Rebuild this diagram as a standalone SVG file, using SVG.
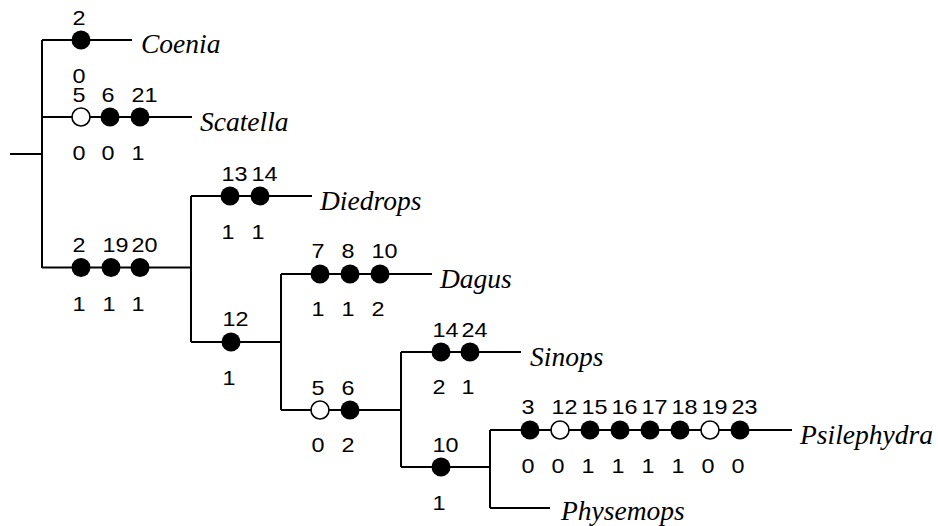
<svg xmlns="http://www.w3.org/2000/svg" width="938" height="526" viewBox="0 0 938 526">
<style>
.l{stroke:#000;stroke-width:2;fill:none}
.f{fill:#000}
.o{fill:#fff;stroke:#000;stroke-width:1.6}
.n{font-family:"Liberation Sans",Arial,sans-serif;font-size:21px;fill:#000}
.t{font-family:"Liberation Serif","Times New Roman",serif;font-style:italic;font-size:27.5px;fill:#000}
</style>
<rect width="938" height="526" fill="#fff"/>
<g id="connectors">
<path class="l" d="M10 154H42M42 40V268M42 40H132M42 117H192M42 267.5H191M191 196V342M191 196H312M191 342H281M281 274V410M281 274H432M281 410H401M401 352V467M401 352H521M401 467H490M490 430V508M490 430H792M490 508H550"/>
</g>
<g id="coenia">
<circle class="f" cx="81" cy="40" r="9.5"/>
<text class="n" x="72.5" y="25" textLength="13" lengthAdjust="spacingAndGlyphs">2</text>
<text class="n" x="72.5" y="83" textLength="13" lengthAdjust="spacingAndGlyphs">0</text>
<text class="t" x="141" y="53">Coenia</text>
</g>
<g id="scatella">
<circle class="o" cx="81" cy="117" r="9"/>
<circle class="f" cx="110" cy="117" r="9.5"/>
<circle class="f" cx="140" cy="117" r="9.5"/>
<text class="n" x="72.5" y="102" textLength="13" lengthAdjust="spacingAndGlyphs">5</text>
<text class="n" x="101.5" y="102" textLength="13" lengthAdjust="spacingAndGlyphs">6</text>
<text class="n" x="131.5" y="102" textLength="26" lengthAdjust="spacingAndGlyphs">21</text>
<text class="n" x="72.5" y="160" textLength="13" lengthAdjust="spacingAndGlyphs">0</text>
<text class="n" x="101.5" y="160" textLength="13" lengthAdjust="spacingAndGlyphs">0</text>
<text class="n" x="131.5" y="160" textLength="13" lengthAdjust="spacingAndGlyphs">1</text>
<text class="t" x="200" y="131">Scatella</text>
</g>
<g id="clade-a">
<circle class="f" cx="81" cy="267.5" r="9.5"/>
<circle class="f" cx="111" cy="267.5" r="9.5"/>
<circle class="f" cx="140" cy="267.5" r="9.5"/>
<text class="n" x="72.5" y="252" textLength="13" lengthAdjust="spacingAndGlyphs">2</text>
<text class="n" x="102.5" y="252" textLength="26" lengthAdjust="spacingAndGlyphs">19</text>
<text class="n" x="131.5" y="252" textLength="26" lengthAdjust="spacingAndGlyphs">20</text>
<text class="n" x="72.5" y="311" textLength="13" lengthAdjust="spacingAndGlyphs">1</text>
<text class="n" x="102.5" y="311" textLength="13" lengthAdjust="spacingAndGlyphs">1</text>
<text class="n" x="131.5" y="311" textLength="13" lengthAdjust="spacingAndGlyphs">1</text>
</g>
<g id="diedrops">
<circle class="f" cx="230" cy="196" r="9.5"/>
<circle class="f" cx="260" cy="196" r="9.5"/>
<text class="n" x="221.5" y="181" textLength="26" lengthAdjust="spacingAndGlyphs">13</text>
<text class="n" x="251.5" y="181" textLength="26" lengthAdjust="spacingAndGlyphs">14</text>
<text class="n" x="221.5" y="239" textLength="13" lengthAdjust="spacingAndGlyphs">1</text>
<text class="n" x="251.5" y="239" textLength="13" lengthAdjust="spacingAndGlyphs">1</text>
<text class="t" x="320" y="210">Diedrops</text>
</g>
<g id="clade-b">
<circle class="f" cx="231" cy="342" r="9.5"/>
<text class="n" x="222.5" y="326" textLength="26" lengthAdjust="spacingAndGlyphs">12</text>
<text class="n" x="222.5" y="385" textLength="13" lengthAdjust="spacingAndGlyphs">1</text>
</g>
<g id="dagus">
<circle class="f" cx="320" cy="274" r="9.5"/>
<circle class="f" cx="350" cy="274" r="9.5"/>
<circle class="f" cx="380" cy="274" r="9.5"/>
<text class="n" x="311.5" y="258" textLength="13" lengthAdjust="spacingAndGlyphs">7</text>
<text class="n" x="341.5" y="258" textLength="13" lengthAdjust="spacingAndGlyphs">8</text>
<text class="n" x="371.5" y="258" textLength="26" lengthAdjust="spacingAndGlyphs">10</text>
<text class="n" x="311.5" y="316" textLength="13" lengthAdjust="spacingAndGlyphs">1</text>
<text class="n" x="341.5" y="316" textLength="13" lengthAdjust="spacingAndGlyphs">1</text>
<text class="n" x="371.5" y="316" textLength="13" lengthAdjust="spacingAndGlyphs">2</text>
<text class="t" x="440" y="288">Dagus</text>
</g>
<g id="clade-c">
<circle class="o" cx="320" cy="410" r="9"/>
<circle class="f" cx="350" cy="410" r="9.5"/>
<text class="n" x="311.5" y="395" textLength="13" lengthAdjust="spacingAndGlyphs">5</text>
<text class="n" x="341.5" y="395" textLength="13" lengthAdjust="spacingAndGlyphs">6</text>
<text class="n" x="311.5" y="452" textLength="13" lengthAdjust="spacingAndGlyphs">0</text>
<text class="n" x="341.5" y="452" textLength="13" lengthAdjust="spacingAndGlyphs">2</text>
</g>
<g id="sinops">
<circle class="f" cx="441" cy="352" r="9.5"/>
<circle class="f" cx="470" cy="352" r="9.5"/>
<text class="n" x="432.5" y="337" textLength="26" lengthAdjust="spacingAndGlyphs">14</text>
<text class="n" x="461.5" y="337" textLength="26" lengthAdjust="spacingAndGlyphs">24</text>
<text class="n" x="432.5" y="394" textLength="13" lengthAdjust="spacingAndGlyphs">2</text>
<text class="n" x="461.5" y="394" textLength="13" lengthAdjust="spacingAndGlyphs">1</text>
<text class="t" x="530" y="366">Sinops</text>
</g>
<g id="clade-d">
<circle class="f" cx="441" cy="467" r="9.5"/>
<text class="n" x="432.5" y="452" textLength="26" lengthAdjust="spacingAndGlyphs">10</text>
<text class="n" x="432.5" y="510" textLength="13" lengthAdjust="spacingAndGlyphs">1</text>
</g>
<g id="psilephydra">
<circle class="f" cx="530" cy="430" r="9.5"/>
<circle class="o" cx="560" cy="430" r="9"/>
<circle class="f" cx="590" cy="430" r="9.5"/>
<circle class="f" cx="620" cy="430" r="9.5"/>
<circle class="f" cx="650" cy="430" r="9.5"/>
<circle class="f" cx="680" cy="430" r="9.5"/>
<circle class="o" cx="710" cy="430" r="9"/>
<circle class="f" cx="740" cy="430" r="9.5"/>
<text class="n" x="521.5" y="414" textLength="13" lengthAdjust="spacingAndGlyphs">3</text>
<text class="n" x="551.5" y="414" textLength="26" lengthAdjust="spacingAndGlyphs">12</text>
<text class="n" x="581.5" y="414" textLength="26" lengthAdjust="spacingAndGlyphs">15</text>
<text class="n" x="611.5" y="414" textLength="26" lengthAdjust="spacingAndGlyphs">16</text>
<text class="n" x="641.5" y="414" textLength="26" lengthAdjust="spacingAndGlyphs">17</text>
<text class="n" x="671.5" y="414" textLength="26" lengthAdjust="spacingAndGlyphs">18</text>
<text class="n" x="701.5" y="414" textLength="26" lengthAdjust="spacingAndGlyphs">19</text>
<text class="n" x="731.5" y="414" textLength="26" lengthAdjust="spacingAndGlyphs">23</text>
<text class="n" x="521.5" y="473" textLength="13" lengthAdjust="spacingAndGlyphs">0</text>
<text class="n" x="551.5" y="473" textLength="13" lengthAdjust="spacingAndGlyphs">0</text>
<text class="n" x="581.5" y="473" textLength="13" lengthAdjust="spacingAndGlyphs">1</text>
<text class="n" x="611.5" y="473" textLength="13" lengthAdjust="spacingAndGlyphs">1</text>
<text class="n" x="641.5" y="473" textLength="13" lengthAdjust="spacingAndGlyphs">1</text>
<text class="n" x="671.5" y="473" textLength="13" lengthAdjust="spacingAndGlyphs">1</text>
<text class="n" x="701.5" y="473" textLength="13" lengthAdjust="spacingAndGlyphs">0</text>
<text class="n" x="731.5" y="473" textLength="13" lengthAdjust="spacingAndGlyphs">0</text>
<text class="t" x="800" y="444">Psilephydra</text>
</g>
<g id="physemops">
<text class="t" x="561" y="520">Physemops</text>
</g>
</svg>
